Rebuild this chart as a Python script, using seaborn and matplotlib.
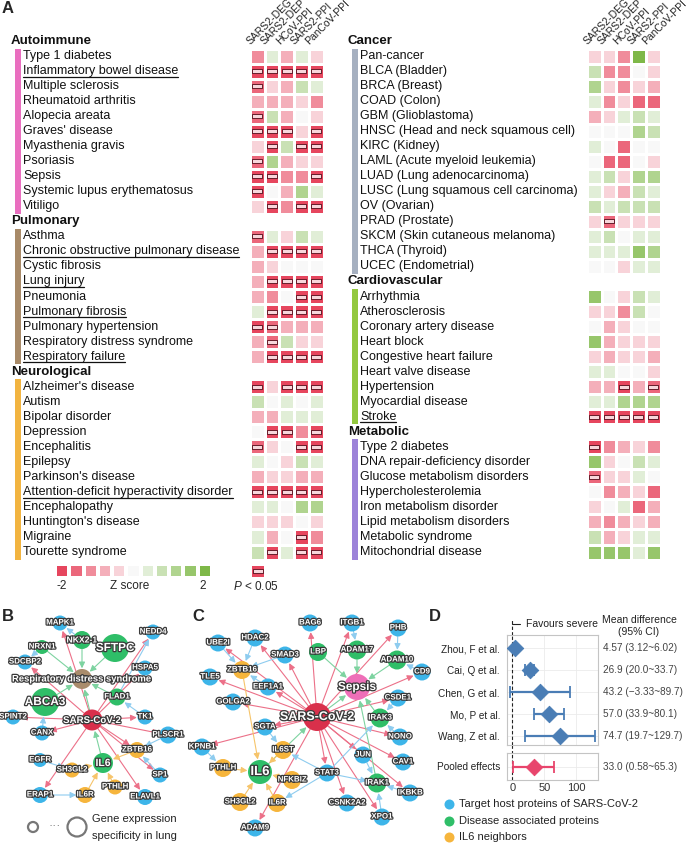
"""
Disease association overview: Z-score heatmaps (A), two SARS-CoV-2
subnetworks (B, C) and a forest plot of IL-6 mean differences (D).
Output: out.png (690x843 px)
"""

import matplotlib
matplotlib.use("Agg")
import matplotlib.pyplot as plt
import matplotlib.patheffects as pe
import matplotlib.transforms as mtrans
from matplotlib.colors import ListedColormap
from matplotlib.lines import Line2D
from matplotlib.patches import FancyArrowPatch, Rectangle
import numpy as np
import pandas as pd
import seaborn as sns

W, H = 690, 843  # pixels, dpi 100

sns.set_theme(style="white")
plt.rcParams["font.family"] = ["Liberation Sans", "DejaVu Sans"]
plt.rcParams["mathtext.fontset"] = "custom"
plt.rcParams["mathtext.it"] = "Liberation Sans:italic"
plt.rcParams["mathtext.rm"] = "Liberation Sans"

# ---------------------------------------------------------------- data (A)
COLUMNS = ["SARS2-DEG", "SARS2-DEP", "HCoV-PPI", "SARS2-PPI", "PanCoV-PPI"]

AUTOIMMUNE = ["Type 1 diabetes", "Inflammatory bowel disease", "Multiple sclerosis",
              "Rheumatoid arthritis", "Alopecia areata", "Graves' disease",
              "Myasthenia gravis", "Psoriasis", "Sepsis",
              "Systemic lupus erythematosus", "Vitiligo"]
AUTOIMMUNE_Z = [[-1.1, 0.3, -0.7, 0.2, -0.3],
                [-2.4, -2.4, -2.4, -2.4, -2.4],
                [-1.5, -0.3, -0.7, 0.7, 0.3],
                [-0.7, -0.7, -0.7, -0.3, -1.1],
                [-1.5, 0.7, -0.7, 0.0, -0.3],
                [-2.4, -2.4, -2.4, -0.3, -2.4],
                [-0.3, -2.4, 0.7, -2.4, -2.4],
                [-1.5, 1.1, -0.7, -0.3, -0.3],
                [-2.4, -2.4, -1.1, -1.1, -2.4],
                [-1.9, 0.0, -0.7, 1.1, 0.3],
                [-0.3, -2.4, -1.1, -2.4, -2.4]]
AUTOIMMUNE_SIG = [[], [0, 1, 2, 3, 4], [0], [], [0], [0, 1, 2, 4], [1, 3, 4],
                  [0], [0, 1, 4], [0], [1, 3, 4]]

PULMONARY = ["Asthma", "Chronic obstructive pulmonary disease", "Cystic fibrosis",
             "Lung injury", "Pneumonia", "Pulmonary fibrosis",
             "Pulmonary hypertension", "Respiratory distress syndrome",
             "Respiratory failure"]
PULMONARY_Z = [[-1.5, 0.3, -0.3, 0.7, 0.3],
               [-0.7, -2.4, -2.4, -2.4, -2.4],
               [-0.7, -0.3, 0.0, 0.0, 0.0],
               [-0.7, -2.4, -2.4, -2.4, -2.4],
               [-0.7, -1.1, 0.0, -2.4, -2.4],
               [0.3, -2.4, -2.4, -2.4, -2.4],
               [-2.4, -1.5, -0.7, -0.7, -0.7],
               [-0.7, -1.5, 0.7, -0.3, -0.3],
               [-0.7, -2.4, -2.4, -2.4, -2.4]]
PULMONARY_SIG = [[0], [1, 2, 3, 4], [], [1, 2, 3, 4], [3, 4], [1, 2, 3, 4],
                 [0, 1], [1], [1, 2, 3, 4]]

NEUROLOGICAL = ["Alzheimer's disease", "Autism", "Bipolar disorder", "Depression",
                "Encephalitis", "Epilepsy", "Parkinson's disease",
                "Attention-deficit hyperactivity disorder", "Encephalopathy",
                "Huntington's disease", "Migraine", "Tourette syndrome"]
NEUROLOGICAL_Z = [[-2.4, -0.3, -2.4, -2.4, -2.4],
                  [0.7, 0.0, 0.3, 0.0, 0.3],
                  [-0.7, -0.7, 0.3, 0.3, 0.3],
                  [0.0, -2.4, -2.4, -1.1, -2.4],
                  [-1.5, -0.3, 0.0, -2.4, -2.4],
                  [0.3, 0.0, -0.3, 0.7, 0.3],
                  [-0.7, -0.3, -0.3, -0.7, -0.7],
                  [-2.4, -2.4, -2.4, -2.4, -2.4],
                  [0.3, 0.3, 0.0, 1.1, 1.1],
                  [-0.3, -0.3, -0.3, 0.0, -0.3],
                  [0.3, -0.7, 0.0, -1.9, -1.1],
                  [0.7, -2.4, 0.3, -2.4, -2.4]]
NEUROLOGICAL_SIG = [[0, 2, 3, 4], [], [], [1, 2, 4], [0, 3, 4], [], [],
                    [0, 1, 2, 3, 4], [], [], [3], [1, 3, 4]]

CANCER = ["Pan-cancer", "BLCA (Bladder)", "BRCA (Breast)", "COAD (Colon)",
          "GBM (Glioblastoma)", "HNSC (Head and neck squamous cell)",
          "KIRC (Kidney)", "LAML (Acute myeloid leukemia)",
          "LUAD (Lung adenocarcinoma)", "LUSC (Lung squamous cell carcinoma)",
          "OV (Ovarian)", "PRAD (Prostate)", "SKCM (Skin cutaneous melanoma)",
          "THCA (Thyroid)", "UCEC (Endometrial)"]
CANCER_Z = [[-0.3, -0.3, -1.1, 1.9, -0.3],
            [0.7, -1.1, -1.1, 0.0, -0.3],
            [1.1, -0.3, -1.1, -0.3, -0.7],
            [0.3, -1.1, -0.3, -1.5, -1.5],
            [-0.7, -0.3, 0.3, 0.7, 0.3],
            [0.0, 0.0, 0.0, 1.1, 0.7],
            [0.3, 0.0, -1.5, 0.0, 0.0],
            [0.0, -1.5, -1.5, 0.0, -0.3],
            [0.3, 0.7, -0.3, 1.1, 1.1],
            [0.3, -0.3, -0.7, 0.7, 0.3],
            [0.7, 0.3, 0.7, 0.7, 0.7],
            [-0.3, -1.5, -0.3, -0.3, -0.3],
            [0.3, 0.7, 0.0, 0.3, 0.3],
            [0.3, 0.3, 0.3, 1.5, 1.1],
            [0.0, 0.0, -0.3, 0.3, 0.3]]
CANCER_SIG = [[], [], [], [], [], [], [], [], [], [], [], [1], [], [], []]

CARDIOVASCULAR = ["Arrhythmia", "Atherosclerosis", "Coronary artery disease",
                  "Heart block", "Congestive heart failure", "Heart valve disease",
                  "Hypertension", "Myocardial disease", "Stroke"]
CARDIOVASCULAR_Z = [[1.5, 0.0, -0.3, 0.7, 0.3],
                    [-0.3, -0.3, -1.1, 0.7, 0.0],
                    [0.0, -0.7, -0.3, 0.0, 0.0],
                    [1.5, -0.7, -0.3, -0.3, -0.3],
                    [-0.3, -0.7, -0.3, -0.3, -0.7],
                    [0.3, 0.3, 0.0, 0.0, -0.3],
                    [-0.7, -0.7, -2.4, -0.7, -1.5],
                    [0.3, 0.3, 1.1, 1.1, 1.1],
                    [-2.4, -2.4, -2.4, -2.4, -2.4]]
CARDIOVASCULAR_SIG = [[], [], [], [], [], [], [2, 4], [], [0, 1, 2, 3, 4]]

METABOLIC = ["Type 2 diabetes", "DNA repair-deficiency disorder",
             "Glucose metabolism disorders", "Hypercholesterolemia",
             "Iron metabolism disorder", "Lipid metabolism disorders",
             "Metabolic syndrome", "Mitochondrial disease"]
METABOLIC_Z = [[-2.4, -1.1, -0.7, -0.3, -1.1],
               [1.5, -0.3, 0.0, 0.7, 0.3],
               [-1.5, -0.3, -0.3, 0.3, 0.0],
               [0.0, -1.1, -0.7, -0.3, -1.5],
               [-0.3, 0.0, 0.3, -1.5, -0.7],
               [-0.7, -1.1, -0.7, -0.3, -0.7],
               [0.7, -0.7, -0.3, 0.3, 0.3],
               [1.5, 1.5, 1.5, 0.3, 1.5]]
METABOLIC_SIG = [[0], [], [0], [], [], [], [], []]

UNDERLINED = ["Inflammatory bowel disease", "Chronic obstructive pulmonary disease",
              "Lung injury", "Pulmonary fibrosis", "Respiratory failure",
              "Attention-deficit hyperactivity disorder", "Stroke"]

CBAR_LEVELS = [-2.0, -1.6, -1.2, -0.8, -0.4, 0.0, 0.4, 0.8, 1.2, 1.6, 2.0]
ZCOLORS = ["#E6465E", "#EB677B", "#F08C9B", "#F4AFBA", "#F8D3D9", "#F8F8F8",
           "#E1EED7", "#C9E1B4", "#B0D48F", "#97C66B", "#7EB848"]

# ---------------------------------------------------------------- data (B, C)
B_NAMES = ["MAPK1", "NKX2-1", "NEDD4", "NRXN1", "SFTPC", "SDCBP2", "HSPA5",
           "Respiratory distress syndrome", "ABCA3", "FLAD1", "SPINT2",
           "SARS-CoV-2", "TK1", "CANX", "PLSCR1", "ZBTB16", "EGFR", "SH3GL2",
           "IL6", "SP1", "ERAP1", "IL6R", "PTHLH", "ELAVL1"]
B_X = [60, 82, 153, 42, 115, 25, 145, 82, 45, 117, 13, 92, 145, 42, 168, 137,
       40, 72, 103, 160, 40, 85, 115, 145]
B_Y = [623, 640, 632, 647, 648, 662, 668, 679, 702, 697, 717, 720, 717, 733,
       735, 750, 760, 770, 763, 775, 795, 795, 787, 797]
B_KIND = ["target", "disease", "target", "disease", "disease", "target", "target",
          "pheno_rds", "disease", "disease", "target", "virus", "target", "target",
          "target", "il6", "target", "il6", "disease", "target", "target", "il6",
          "il6", "target"]
B_R = [7.5, 9, 7.5, 7, 14, 7.5, 7.5, 10, 14, 8.5, 7.5, 10.5, 7.5, 7.5, 8.5, 8,
       7, 7.5, 10, 7.5, 8, 8, 7.5, 8]
B_EDGES = [("SARS-CoV-2", "MAPK1", "r"), ("SARS-CoV-2", "NEDD4", "r"),
           ("SARS-CoV-2", "SDCBP2", "r"), ("SARS-CoV-2", "HSPA5", "r"),
           ("SARS-CoV-2", "SPINT2", "r"), ("SARS-CoV-2", "TK1", "r"),
           ("SARS-CoV-2", "CANX", "r"), ("SARS-CoV-2", "PLSCR1", "r"),
           ("SARS-CoV-2", "ERAP1", "r"), ("SARS-CoV-2", "ELAVL1", "r"),
           ("SARS-CoV-2", "SP1", "r"), ("SARS-CoV-2", "ZBTB16", "r"),
           ("NKX2-1", "Respiratory distress syndrome", "g"),
           ("NRXN1", "Respiratory distress syndrome", "g"),
           ("SFTPC", "Respiratory distress syndrome", "g"),
           ("ABCA3", "Respiratory distress syndrome", "g"),
           ("FLAD1", "Respiratory distress syndrome", "g"),
           ("SARS-CoV-2", "Respiratory distress syndrome", "g"),
           ("IL6", "SARS-CoV-2", "g"),
           ("NKX2-1", "MAPK1", "b"), ("NRXN1", "SDCBP2", "b"),
           ("FLAD1", "NEDD4", "b"), ("TK1", "FLAD1", "b"),
           ("PLSCR1", "ZBTB16", "b"), ("SP1", "ZBTB16", "b"),
           ("EGFR", "SH3GL2", "b"), ("ERAP1", "IL6R", "b"), ("CANX", "ABCA3", "b"),
           ("SH3GL2", "IL6", "o"), ("PTHLH", "IL6", "o"), ("IL6R", "IL6", "o"),
           ("ZBTB16", "IL6", "o")]
B_BIG_LABELS = {"SFTPC": 8.5, "ABCA3": 8.5, "IL6": 7.5, "SARS-CoV-2": 7,
                "Respiratory distress syndrome": 6.8, "NKX2-1": 6.2}

C_NAMES = ["BAG6", "ITGB1", "PHB", "UBE2I", "HDAC2", "SMAD3", "LBP", "ADAM17",
           "ADAM10", "CD9", "ZBTB16", "TLE5", "EEF1A1", "Sepsis", "GOLGA2", "CSDE1",
           "SARS-CoV-2", "IRAK3", "SGTA", "NONO", "KPNB1", "IL6ST", "JUN", "CAV1",
           "PTHLH", "IL6", "NFKBIZ", "STAT3", "IRAK1", "IKBKB", "SH3GL2", "IL6R",
           "CSNK2A2", "XPO1", "ADAM9"]
C_X = [310, 352, 398, 218, 255, 285, 318, 357, 397, 422, 242, 210, 268, 357,
       233, 398, 317, 380, 265, 400, 202, 283, 363, 403, 223, 260, 292, 327, 377,
       410, 240, 277, 347, 382, 255]
C_Y = [623, 623, 628, 643, 638, 655, 652, 650, 660, 672, 670, 677, 687, 687,
       702, 698, 717, 718, 727, 737, 747, 750, 755, 762, 768, 772, 780, 773, 783,
       793, 802, 803, 803, 817, 828]
C_KIND = ["target", "target", "target", "target", "target", "target", "disease",
          "disease", "disease", "target", "il6", "target", "target", "pheno_sepsis",
          "target", "target", "virus", "disease", "target", "target", "target",
          "il6", "target", "target", "il6", "disease", "il6", "target", "disease",
          "target", "il6", "il6", "target", "target", "target"]
C_R = [8.5, 8.5, 8.5, 8.5, 8.5, 8.5, 9, 9.5, 9.5, 8.5, 9, 8.5, 8.5, 13, 8.5,
       8.5, 14, 9.5, 8.5, 8.5, 8.5, 9, 8.5, 8.5, 9, 12, 9, 8.5, 9.5, 8.5, 9, 9,
       8.5, 8.5, 8.5]
C_EDGES = ([("SARS-CoV-2", t, "r") for t in
            ["BAG6", "ITGB1", "PHB", "CD9", "UBE2I", "HDAC2", "SMAD3", "TLE5",
             "EEF1A1", "GOLGA2", "CSDE1", "NONO", "CAV1", "IKBKB", "CSNK2A2", "JUN",
             "KPNB1", "SGTA", "ADAM9", "STAT3", "XPO1"]]
           + [("LBP", "Sepsis", "g"), ("ADAM17", "Sepsis", "g"),
              ("ADAM10", "Sepsis", "g"), ("IRAK3", "Sepsis", "g"),
              ("IRAK1", "Sepsis", "g"), ("SARS-CoV-2", "Sepsis", "g"),
              ("IL6", "SARS-CoV-2", "g"),
              ("ITGB1", "ADAM17", "b"), ("PHB", "ADAM10", "b"), ("CD9", "ADAM10", "b"),
              ("CSDE1", "IRAK3", "b"), ("NONO", "IRAK3", "b"), ("JUN", "IRAK1", "b"),
              ("XPO1", "IRAK1", "b"), ("IKBKB", "IRAK1", "b"),
              ("STAT3", "IL6ST", "b"), ("STAT3", "IL6R", "b"), ("STAT3", "IRAK1", "b"),
              ("STAT3", "IRAK3", "b"), ("HDAC2", "ZBTB16", "b"),
              ("UBE2I", "ZBTB16", "b"), ("SMAD3", "ZBTB16", "b"),
              ("EEF1A1", "ZBTB16", "b"), ("KPNB1", "PTHLH", "b"),
              ("SGTA", "IL6ST", "b"),
              ("ZBTB16", "IL6", "o"), ("IL6ST", "IL6", "o"), ("PTHLH", "IL6", "o"),
              ("NFKBIZ", "IL6", "o"), ("SH3GL2", "IL6", "o"), ("IL6R", "IL6", "o")])
C_BIG_LABELS = {"SARS-CoV-2": 9, "Sepsis": 8.5, "IL6": 9.5}

NODE_COLORS = {"target": "#3DB5E9", "disease": "#2FBE68", "il6": "#F6B53C",
               "virus": "#D9304B", "pheno_rds": "#A98C6C", "pheno_sepsis": "#EE6FB8"}
EDGE_COLORS = {"r": "#EC7088", "g": "#7DD3A0", "b": "#8ECCEF", "o": "#F6C46A"}

LEGEND_KINDS = ["target", "disease", "il6"]
LEGEND_LABELS = ["Target host proteins of SARS-CoV-2", "Disease associated proteins",
                 "IL6 neighbors"]

# ---------------------------------------------------------------- data (D)
STUDIES = ["Zhou, F et al.", "Cai, Q et al.", "Chen, G et al.", "Mo, P et al.",
           "Wang, Z et al."]
MEAN_DIFF = [4.57, 26.9, 43.2, 57.0, 74.7]
CI_LOW = [3.12, 20.0, -3.33, 33.9, 19.7]
CI_HIGH = [6.02, 33.7, 89.7, 80.1, 129.7]
POOLED = [33.0]
POOLED_LOW = [0.58]
POOLED_HIGH = [65.3]

BLUE = "#4A7DB5"
PINK = "#E8456C"

# ---------------------------------------------------------------- layout
TOP = 33.5
ROW_H = 15.03
CELL_W = 14.7

fig = plt.figure(figsize=(W / 100, H / 100), dpi=100)
ov = fig.add_axes([0, 0, 1, 1])
ov.set_xlim(0, W)
ov.set_ylim(H, 0)
ov.axis("off")

cmap = ListedColormap(ZCOLORS)
sig_marker = [(-1, -0.4), (1, -0.4), (1, 0.4), (-1, 0.4), (-1, -0.4)]


def fig_box(x0, y0, x1, y1):
    return [x0 / W, 1 - y1 / H, (x1 - x0) / W, (y1 - y0) / H]


def draw_block(x0, groups, label_x, header_x, bar_x):
    z_rows, sig_pts, slots = [], [], []
    for name, diseases, zs, sigs, color in groups:
        slots.append((name, True, color))
        z_rows.append([np.nan] * len(COLUMNS))
        for d, zr, sr in zip(diseases, zs, sigs):
            for c in sr:
                sig_pts.append((c, len(z_rows)))
            slots.append((d, False, color))
            z_rows.append(zr)
    zdf = pd.DataFrame(z_rows, columns=COLUMNS)
    n = len(zdf)
    ax = fig.add_axes(fig_box(x0, TOP, x0 + CELL_W * len(COLUMNS), TOP + n * ROW_H))
    sns.heatmap(zdf, ax=ax, cmap=cmap, vmin=-2, vmax=2, cbar=False,
                linewidths=1, linecolor="white", xticklabels=False, yticklabels=False)
    sc, sr_ = zip(*sig_pts)
    ax.scatter(np.array(sc) + 0.5, np.array(sr_) + 0.5, marker=sig_marker, s=44,
               facecolor="#F7D6DB", edgecolor="#5E1522", linewidth=0.65, zorder=3)
    for j, col in enumerate(COLUMNS):
        ax.text(j + 0.12, 0.85, col, rotation=45, rotation_mode="anchor",
                ha="left", va="bottom", fontsize=7.5, color="#222", clip_on=False)

    labels = []
    start = None
    for i, (text, is_header, color) in enumerate(slots + [(None, True, None)]):
        yc = TOP + (i + 0.5) * ROW_H
        if is_header:
            if start is not None:
                ov.add_patch(Rectangle((bar_x, TOP + start * ROW_H), 5.5,
                                       (i - start) * ROW_H, color=prev_color, lw=0))
            if text is None:
                break
            ov.text(header_x, yc, text, fontsize=9.5, weight="bold", va="center",
                    color="#111")
            start = i + 1
            prev_color = color
        else:
            t = ov.text(label_x, yc, text, fontsize=9, va="center", color="#111")
            if text in UNDERLINED:
                labels.append(t)
    return labels


left_groups = [("Autoimmune", AUTOIMMUNE, AUTOIMMUNE_Z, AUTOIMMUNE_SIG, "#E96EBF"),
               ("Pulmonary", PULMONARY, PULMONARY_Z, PULMONARY_SIG, "#A88A68"),
               ("Neurological", NEUROLOGICAL, NEUROLOGICAL_Z, NEUROLOGICAL_SIG, "#F2B440")]
right_groups = [("Cancer", CANCER, CANCER_Z, CANCER_SIG, "#A6B0C0"),
                ("Cardiovascular", CARDIOVASCULAR, CARDIOVASCULAR_Z,
                 CARDIOVASCULAR_SIG, "#93C83F"),
                ("Metabolic", METABOLIC, METABOLIC_Z, METABOLIC_SIG, "#9C83D9")]

under = draw_block(250, left_groups, 23, 11, 15)
under += draw_block(587, right_groups, 360, 348, 352)

# colour scale and significance key
axc = fig.add_axes(fig_box(55, 564, 212, 578))
sns.heatmap([CBAR_LEVELS], ax=axc, cmap=cmap, vmin=-2, vmax=2, cbar=False,
            linewidths=1.5, linecolor="white", xticklabels=False, yticklabels=False)
ov.text(62, 586, "-2", ha="center", va="center", fontsize=8.5)
ov.text(130, 586, "Z score", ha="center", va="center", fontsize=8.5)
ov.text(203, 586, "2", ha="center", va="center", fontsize=8.5)
axs = fig.add_axes(fig_box(250, 564, 265, 578))
sns.heatmap([[CBAR_LEVELS[0]]], ax=axs, cmap=cmap, vmin=-2, vmax=2, cbar=False,
            linewidths=1, linecolor="white", xticklabels=False, yticklabels=False)
axs.scatter([0.5], [0.5], marker=sig_marker, s=44, facecolor="#F7D6DB",
            edgecolor="#5E1522", linewidth=0.65, zorder=3)
ov.text(233, 586, "$P$ < 0.05", ha="left", va="center", fontsize=8.5)

# panel letters
for letter, x, y in [("A", 2, 1), ("B", 2, 609), ("C", 192, 609), ("D", 429, 609)]:
    ov.text(x, y, letter, fontsize=12, weight="bold", va="top", ha="left")


# ---------------------------------------------------------------- networks
def draw_network(names, xs, ys, kinds, radii, edges, big_labels):
    pos = {n: (x, y) for n, x, y in zip(names, xs, ys)}
    rad = dict(zip(names, radii))
    for a, b, k in edges:
        ov.add_patch(FancyArrowPatch(
            pos[a], pos[b], arrowstyle="-|>,head_length=0.4,head_width=0.2",
            mutation_scale=9, shrinkA=rad[a] * 0.72, shrinkB=rad[b] * 0.72 + 0.5,
            color=EDGE_COLORS[k], lw=0.8, zorder=2))
    ov.scatter(xs, ys, s=[(1.44 * r) ** 2 for r in radii],
               c=[NODE_COLORS[k] for k in kinds], linewidths=0, zorder=3)
    for n, x, y in zip(names, xs, ys):
        ov.text(x, y, n, ha="center", va="center", fontsize=big_labels.get(n, 5.7),
                color="white", weight="bold", zorder=4,
                path_effects=[pe.withStroke(linewidth=1.8, foreground="#3A3A3A")])


draw_network(B_NAMES, B_X, B_Y, B_KIND, B_R, B_EDGES, B_BIG_LABELS)
draw_network(C_NAMES, C_X, C_Y, C_KIND, C_R, C_EDGES, C_BIG_LABELS)

# lung specificity key
ov.scatter([33, 77], [827, 827], s=[(1.44 * 5) ** 2, (1.44 * 9.5) ** 2],
           facecolor="none", edgecolor="#777", linewidth=1.6)
ov.text(55, 826, "···", ha="center", va="center", fontsize=9, color="#777")
ov.text(92, 819, "Gene expression", fontsize=8, va="center", color="#222")
ov.text(92, 836, "specificity in lung", fontsize=8, va="center", color="#222")

# node-type legend
for i, (k, lab) in enumerate(zip(LEGEND_KINDS, LEGEND_LABELS)):
    yy = 804 + i * 16.5
    ov.scatter([449], [yy], s=(1.44 * 5) ** 2, color=NODE_COLORS[k], linewidths=0)
    ov.text(459, yy, lab, fontsize=8, va="center", color="#222")

# ---------------------------------------------------------------- forest (D)
XLIM = (-8.5, 134)
axf = fig.add_axes(fig_box(507, 635, 598, 745))
axp = fig.add_axes(fig_box(507, 753, 598, 780))
idx = np.arange(len(STUDIES))

for ax in (axf, axp):
    ax.set_xlim(*XLIM)
    ax.set_xticks([0, 50, 100])
    ax.grid(True, color="#EBEBEB", lw=0.6)
    ax.set_axisbelow(True)
    for s in ax.spines.values():
        s.set_color("#C4C4C4")
        s.set_linewidth(0.8)
    ax.axvline(0, color="#222", ls=(0, (3, 2)), lw=0.8, zorder=1)
    ax.tick_params(axis="y", length=0, pad=5, labelsize=7.2, colors="#222")

axf.errorbar(MEAN_DIFF, idx, xerr=[np.subtract(MEAN_DIFF, CI_LOW),
                                   np.subtract(CI_HIGH, MEAN_DIFF)],
             fmt="none", ecolor=BLUE, elinewidth=1.6, capsize=4, capthick=1.3, zorder=2)
sns.scatterplot(x=MEAN_DIFF, y=idx, ax=axf, marker="D", s=70, color=BLUE,
                edgecolor=BLUE, zorder=3, legend=False)
axf.set_ylim(4.4, -0.6)
axf.set_yticks(idx, STUDIES)
axf.tick_params(axis="x", length=0, labelbottom=False)
axf.plot([0, 0], [-0.6, -1.35], color="#222", ls=(0, (3, 2)), lw=0.8, clip_on=False)
axf.plot([0, 0], [4.4, 4.8], color="#222", ls=(0, (3, 2)), lw=0.8, clip_on=False)
axf.plot([0, 12], [-1.1, -1.1], color="#222", lw=0.8, clip_on=False)
axf.text(22, -1.1, "Favours severe", fontsize=7.5, va="center", color="#222")

axp.errorbar(POOLED, [0], xerr=[np.subtract(POOLED, POOLED_LOW),
                                np.subtract(POOLED_HIGH, POOLED)],
             fmt="none", ecolor=PINK, elinewidth=1.6, capsize=4, capthick=1.3, zorder=2)
sns.scatterplot(x=POOLED, y=[0], ax=axp, marker="D", s=70, color=PINK,
                edgecolor=PINK, zorder=3, legend=False)
axp.set_ylim(0.5, -0.5)
axp.set_yticks([0], ["Pooled effects"])
axp.tick_params(axis="x", length=0, pad=2, labelsize=8, colors="#333")


def fmt(v):
    return f"{v}".replace("-", "\u2212")


tf = mtrans.blended_transform_factory(ov.transData, axf.transData)
for i, (m, lo, hi) in enumerate(zip(MEAN_DIFF, CI_LOW, CI_HIGH)):
    axf.text(603, i, f"{fmt(m)} ({fmt(lo)}~{fmt(hi)})", transform=tf,
             fontsize=7.2, va="center", color="#444", clip_on=False)
tp = mtrans.blended_transform_factory(ov.transData, axp.transData)
axp.text(603, 0, f"{fmt(POOLED[0])} ({fmt(POOLED_LOW[0])}~{fmt(POOLED_HIGH[0])})",
         transform=tp, fontsize=7.2, va="center", color="#444", clip_on=False)
ov.text(639, 626, "Mean difference\n(95% CI)", ha="center", va="center",
        fontsize=7.5, linespacing=1.15, color="#222")

# underline the highlighted disease labels
fig.canvas.draw()
renderer = fig.canvas.get_renderer()
inv = ov.transData.inverted()
for t in under:
    bb = t.get_window_extent(renderer)
    (x0, y0), (x1, _) = inv.transform([(bb.x0, bb.y0), (bb.x1, bb.y0)])
    ov.add_line(Line2D([x0, x1], [y0 - 0.3, y0 - 0.3], color="#111", lw=0.9))

fig.savefig("out.png", dpi=100)
